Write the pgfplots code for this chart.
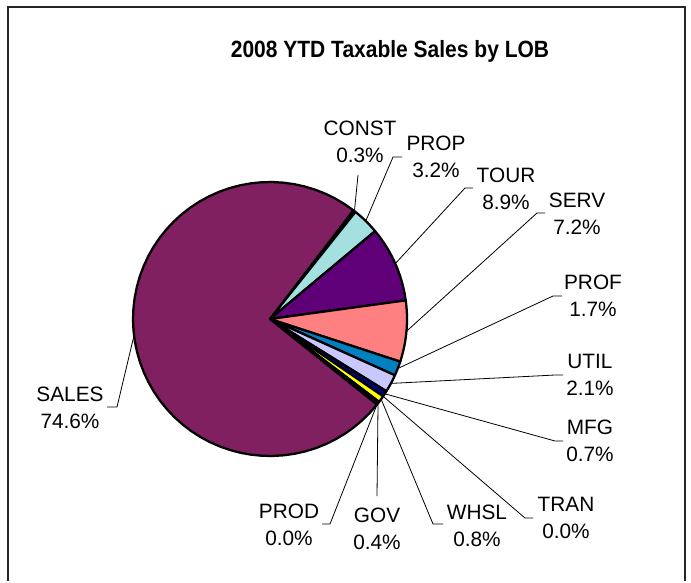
\documentclass[border=0pt]{standalone}
\usepackage{fontspec}
\setmainfont{Liberation Sans}
\usepackage{graphicx}
\usepackage{pgfplots}
\usepackage{pgfplotstable}
\pgfplotsset{compat=1.18}

\definecolor{cConst}{HTML}{FFFFCC}
\definecolor{cProp}{HTML}{A4E0E0}
\definecolor{cTour}{HTML}{600078}
\definecolor{cServ}{HTML}{FF8080}
\definecolor{cProf}{HTML}{0080C0}
\definecolor{cUtil}{HTML}{C8C8FF}
\definecolor{cMfg}{HTML}{000080}
\definecolor{cTran}{HTML}{FF00FF}
\definecolor{cWhsl}{HTML}{FFFF00}
\definecolor{cGov}{HTML}{200020}
\definecolor{cProd}{HTML}{800080}
\definecolor{cSales}{HTML}{802060}

% slices clockwise from the first one; lx = label centre, ly = baseline of
% the first label line, (ex,ey) = leader elbow, hx = end of the short tail
\pgfplotstableread{
label value color  lx  ly  ex  ey  hx
CONST 0.3  cConst  360 135 358 175 358
PROP  3.2  cProp   436 150 393 157 402
TOUR  8.9  cTour   506 182 465 188 473
SERV  7.2  cServ   577 207 537 213 545
PROF  1.7  cProf   593 289 553 296 562
UTIL  2.1  cUtil   590 368 555 375 563
MFG   0.7  cMfg    590 434 555 441 563
TRAN  0.0  cTran   566 511 525 518 533
WHSL  0.8  cWhsl   477 519 433 524 443
GOV   0.4  cGov    377 522 377 496 377
PROD  0.0  cProd   289 518 330 524 322
SALES 74.6 cSales  70  401 117 407 107
}\pietable

\newcommand\lblfont{\fontsize{15.6}{18}\selectfont}

\begin{document}
\begin{tikzpicture}
\def\total{0}
\pgfplotsforeachungrouped \i in {0,...,11}{%
  \pgfplotstablegetelem{\i}{value}\of\pietable
  \pgfmathsetmacro\total{\total+\pgfplotsretval}%
}
\begin{axis}[
  scale only axis,
  x=0.75pt, y=0.75pt,
  xmin=0, xmax=691, ymin=0, ymax=581,
  y dir=reverse,
  hide axis, clip=false,
]
\path (axis cs:0,0) rectangle (axis cs:691,581);
% chart frame (bottom edge is cut off)
\draw[black!85, line width=1.7pt] (axis cs:8,581) -- (axis cs:8,7) -- (axis cs:685,7) -- (axis cs:685,581);
\node[anchor=base, font=\bfseries\fontsize{15.75}{18}\selectfont] at (axis cs:390,57.5) {\scalebox{1}[1.12]{2008 YTD Taxable Sales by LOB}};

\def\startang{37.5}
\def\cum{0}
\pgfplotsforeachungrouped \i in {0,...,11}{%
  \pgfplotstablegetelem{\i}{value}\of\pietable \let\val\pgfplotsretval
  \pgfplotstablegetelem{\i}{color}\of\pietable \let\col\pgfplotsretval
  \pgfplotstablegetelem{\i}{label}\of\pietable \let\lab\pgfplotsretval
  \pgfplotstablegetelem{\i}{lx}\of\pietable \let\lx\pgfplotsretval
  \pgfplotstablegetelem{\i}{ly}\of\pietable \let\ly\pgfplotsretval
  \pgfplotstablegetelem{\i}{ex}\of\pietable \let\ex\pgfplotsretval
  \pgfplotstablegetelem{\i}{ey}\of\pietable \let\ey\pgfplotsretval
  \pgfplotstablegetelem{\i}{hx}\of\pietable \let\hx\pgfplotsretval
  \pgfmathsetmacro\a{\startang+360*(\cum/\total)}%
  \pgfmathsetmacro\cum{\cum+\val}%
  \pgfmathsetmacro\b{\startang+360*(\cum/\total)}%
  \pgfmathsetmacro\m{(\a+\b)/2}%
  \pgfmathsetmacro\rx{270+137*sin(\m)}%
  \pgfmathsetmacro\ry{319-137*cos(\m)}%
  \pgfmathsetmacro\lyb{\ly+27}%
  \pgfmathparse{\val>0 ? 1 : 0}%
  \ifnum\pgfmathresult=1
    \edef\temp{\noexpand\addplot[fill=\col, draw=black, line width=1.7pt, line join=round, domain=\a:\b, samples=60]
      ({270+137*sin(x)},{319-137*cos(x)}) -- (axis cs:270,319) -- cycle;}%
    \temp
  \fi
  \edef\temp{%
    \noexpand\draw[black, line width=0.6pt] (axis cs:\rx,\ry) -- (axis cs:\ex,\ey) -- (axis cs:\hx,\ey);
    \noexpand\node[anchor=base, font=\noexpand\lblfont] at (axis cs:\lx,\ly) {\lab};
    \noexpand\node[anchor=base, font=\noexpand\lblfont] at (axis cs:\lx,\lyb) {\val\%};
  }%
  \temp
}
\end{axis}
\end{tikzpicture}
\end{document}
